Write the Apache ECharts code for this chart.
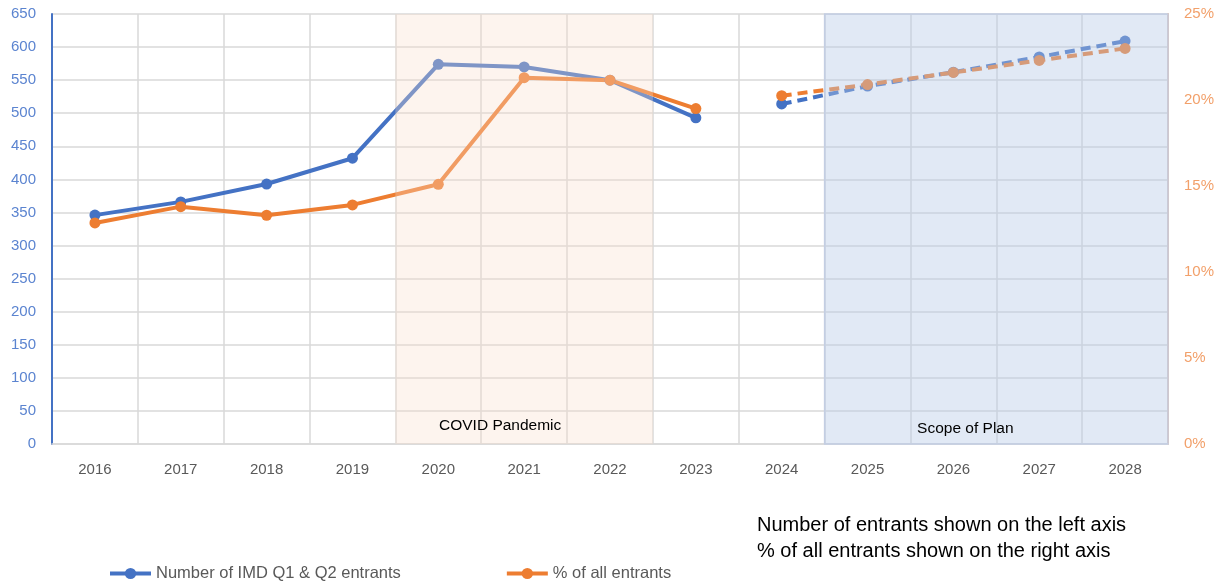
<!DOCTYPE html>
<html>
<head>
<meta charset="utf-8">
<script src="https://cdn.jsdelivr.net/npm/echarts@6/dist/echarts.min.js"></script>
<style>
html,body{margin:0;padding:0;background:#fff;}
#chart{width:1227px;height:585px;}
</style>
</head>
<body>
<div id="chart"></div>
<script>
var years = ['2016','2017','2018','2019','2020','2021','2022','2023','2024','2025','2026','2027','2028'];
var entrantsActual = [346, 366, 393, 432, 574, 570, 550, 493];
var entrantsPlan = [514, 541, 562, 585, 609];
var pctActual = [12.85, 13.8, 13.3, 13.9, 15.1, 21.3, 21.15, 19.5];
var pctPlan = [20.25, 20.9, 21.6, 22.3, 23.0];
var leftTicks = {min: 0, max: 650, interval: 50};
var rightTicks = {min: 0, max: 25, interval: 5};
var covidSpan = [4, 7];   // category-index boundaries (2020 .. end of 2022)
var scopeSpan = [9, 13];  // 2025 .. end of 2028
var seriesNames = ['Number of IMD Q1 & Q2 entrants', '% of all entrants'];
var notes = ['Number of entrants shown on the left axis', '% of all entrants shown on the right axis'];

function pad(arr, before, total) {
  var out = [];
  for (var i = 0; i < total; i++) {
    var j = i - before;
    out.push(j >= 0 && j < arr.length ? arr[j] : null);
  }
  return out;
}
var N = years.length;
var blue = '#4472C4', orange = '#ED7D31';
var FONT = "'Liberation Sans', Arial, sans-serif";

var chart = echarts.init(document.getElementById('chart'));
chart.setOption({
  animation: false,
  textStyle: {fontFamily: FONT},
  grid: {left: 52, right: 59, top: 14, bottom: 141},
  legend: {
    data: seriesNames,
    left: 103, top: 560,
    itemWidth: 41, itemHeight: 14, itemGap: 104,
    lineStyle: {width: 4},
    textStyle: {fontSize: 16.5, color: '#595959', fontFamily: FONT}
  },
  graphic: [{
    type: 'text', left: 757, top: 512,
    style: {text: notes.join('\n'), fontSize: 20, lineHeight: 26, fill: '#000', fontFamily: FONT}
  }],
  xAxis: [{
    type: 'category', data: years, boundaryGap: true,
    axisLine: {show: true, lineStyle: {color: '#D9D9D9', width: 1.5}},
    axisTick: {show: false},
    axisLabel: {color: '#595959', fontSize: 15, margin: 18},
    splitLine: {show: true, lineStyle: {color: '#D9D9D9', width: 1.5}}
  }, {
    type: 'value', min: 0, max: N, show: false
  }],
  yAxis: [{
    type: 'value', min: leftTicks.min, max: leftTicks.max, interval: leftTicks.interval,
    axisLine: {show: true, lineStyle: {color: blue, width: 2}},
    axisTick: {show: false},
    axisLabel: {color: '#5B84D0', fontSize: 15, margin: 16},
    splitLine: {lineStyle: {color: '#D9D9D9', width: 1.5}}
  }, {
    type: 'value', min: rightTicks.min, max: rightTicks.max, interval: rightTicks.interval,
    position: 'right',
    axisLine: {show: true, lineStyle: {color: '#F0B48C', width: 2}},
    axisTick: {show: false},
    axisLabel: {color: '#F2A06A', fontSize: 15, margin: 16, formatter: '{value}%'},
    splitLine: {show: false}
  }],
  series: [{
    name: seriesNames[0], type: 'line', yAxisIndex: 0,
    data: pad(entrantsActual, 0, N),
    color: blue, lineStyle: {width: 4, color: blue},
    symbol: 'circle', symbolSize: 11, itemStyle: {color: blue}, z: 3
  }, {
    name: seriesNames[0], type: 'line', yAxisIndex: 0,
    data: pad(entrantsPlan, 8, N),
    color: blue, lineStyle: {width: 4, color: blue, type: [10, 6]},
    symbol: 'circle', symbolSize: 11, itemStyle: {color: blue}, z: 3
  }, {
    name: seriesNames[1], type: 'line', yAxisIndex: 1,
    data: pad(pctActual, 0, N),
    color: orange, lineStyle: {width: 4, color: orange},
    symbol: 'circle', symbolSize: 11, itemStyle: {color: orange}, z: 3
  }, {
    name: seriesNames[1], type: 'line', yAxisIndex: 1,
    data: pad(pctPlan, 8, N),
    color: orange, lineStyle: {width: 4, color: orange, type: [10, 6]},
    symbol: 'circle', symbolSize: 11, itemStyle: {color: orange}, z: 3
  }, {
    name: 'shading', type: 'line', xAxisIndex: 1, yAxisIndex: 0, data: [],
    silent: true, z: 10,
    markArea: {
      silent: true, z: 10,
      data: [
        [{xAxis: covidSpan[0],
          itemStyle: {color: 'rgba(249,221,203,0.33)', borderWidth: 0},
          label: {show: true, position: 'insideBottom', distance: 10, offset: [-24, 0], color: '#000', fontSize: 15.5, formatter: 'COVID Pandemic'}},
         {xAxis: covidSpan[1]}],
        [{xAxis: scopeSpan[0],
          itemStyle: {color: 'rgba(180,199,231,0.4)', borderColor: '#C3CEE3', borderWidth: 1.5},
          label: {show: true, position: 'insideBottom', distance: 8, offset: [-31, 0], color: '#000', fontSize: 15.5, formatter: 'Scope of Plan'}},
         {xAxis: scopeSpan[1]}]
      ]
    }
  }]
});
</script>
</body>
</html>
